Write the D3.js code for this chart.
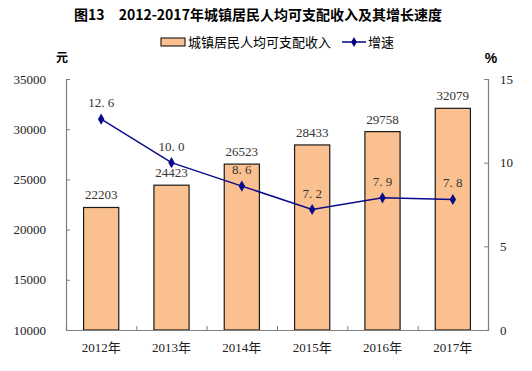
<!DOCTYPE html>
<html>
<head>
<meta charset="utf-8">
<script src="https://cdn.jsdelivr.net/npm/d3@7"></script>
<style>
  body { margin: 0; background: #fff; }
  text { font-family: "Liberation Serif", "Noto Sans CJK SC", serif; }
</style>
</head>
<body>
<script>
// Data
var years = ["2012年", "2013年", "2014年", "2015年", "2016年", "2017年"];
var income = [22203, 24423, 26523, 28433, 29758, 32079];
var growth = [12.6, 10.0, 8.6, 7.2, 7.9, 7.8];
var leftTicks = [10000, 15000, 20000, 25000, 30000, 35000];
var rightTicks = [0, 5, 10, 15];

var W = 532, H = 371;
var plotL = 66, plotR = 488, plotT = 79, plotB = 330;
var cjk = '"Noto Sans CJK SC", sans-serif';

var svg = d3.select("body").append("svg")
  .attr("width", W).attr("height", H);

var x = d3.scaleBand().domain(years).range([plotL, plotR]).paddingInner(0.5).paddingOuter(0.25);
var yL = d3.scaleLinear().domain([10000, 35000]).range([plotB, plotT]);
var yR = d3.scaleLinear().domain([0, 15]).range([plotB, plotT]);

// Title
svg.append("text")
  .attr("x", 258).attr("y", 20)
  .attr("text-anchor", "middle")
  .style("font-family", cjk)
  .style("font-weight", "bold")
  .style("font-size", "14px")
  .attr("fill", "#000")
  .text("图13　2012-2017年城镇居民人均可支配收入及其增长速度");

// Legend
var lg = svg.append("g").style("font-family", cjk).style("font-size", "13px");
lg.append("rect").attr("x", 161).attr("y", 38).attr("width", 24).attr("height", 8)
  .attr("fill", "#FAC090").attr("stroke", "#000").attr("stroke-width", 1);
lg.append("text").attr("x", 188).attr("y", 47).attr("fill", "#000").text("城镇居民人均可支配收入");
lg.append("line").attr("x1", 342).attr("x2", 366).attr("y1", 42).attr("y2", 42)
  .attr("stroke", "#00007F").attr("stroke-width", 1.5);
lg.append("path").attr("d", d3.symbol(d3.symbolDiamond, 28)())
  .attr("transform", "translate(354,42)").attr("fill", "#00007F");
lg.append("text").attr("x", 368).attr("y", 47).attr("fill", "#000").text("增速");

// Unit labels
svg.append("text").attr("x", 62).attr("y", 62).attr("text-anchor", "middle")
  .style("font-family", cjk).style("font-weight", "bold").style("font-size", "12px").text("元");
svg.append("text").attr("x", 491).attr("y", 63).attr("text-anchor", "middle")
  .style("font-family", "Liberation Sans, sans-serif").style("font-weight", "bold").style("font-size", "14px").text("%");

// Bars
svg.selectAll(".bar").data(income).enter().append("rect")
  .attr("class", "bar")
  .attr("x", function(d, i) { return x(years[i]); })
  .attr("y", function(d) { return yL(d); })
  .attr("width", x.bandwidth())
  .attr("height", function(d) { return plotB - yL(d); })
  .attr("fill", "#FAC090")
  .attr("stroke", "#1a1a1a")
  .attr("stroke-width", 1.2);

// Axes
var axL = svg.append("g").attr("transform", "translate(" + plotL + ",0)")
  .call(d3.axisLeft(yL).tickValues(leftTicks).tickSize(-4).tickPadding(20).tickFormat(d3.format("d")));
var axR = svg.append("g").attr("transform", "translate(" + plotR + ",0)")
  .call(d3.axisRight(yR).tickValues(rightTicks).tickSize(-4).tickPadding(12));
var xb = d3.scaleLinear().domain([0, 6]).range([plotL, plotR]);
var axB = svg.append("g").attr("transform", "translate(0," + plotB + ")")
  .call(d3.axisBottom(xb).tickValues([1, 2, 3, 4, 5]).tickSize(-4).tickFormat(""));
[axL, axR, axB].forEach(function(a) {
  a.select(".domain").attr("stroke", "#7f7f7f").attr("stroke-width", 1.2);
  a.selectAll(".tick line").attr("stroke", "#7f7f7f");
  a.selectAll("text").style("font-size", "13px").attr("fill", "#222")
    .style("font-family", "Liberation Serif, serif");
});

// Category labels
svg.selectAll(".xl").data(years).enter().append("text")
  .attr("x", function(d) { return x(d) + x.bandwidth() / 2; })
  .attr("y", 352)
  .attr("text-anchor", "middle")
  .style("font-size", "13px")
  .attr("fill", "#222")
  .text(function(d) { return d; });

// Bar value labels
svg.selectAll(".bl").data(income).enter().append("text")
  .attr("x", function(d, i) { return x(years[i]) + x.bandwidth() / 2; })
  .attr("y", function(d) { return yL(d) - 8; })
  .attr("text-anchor", "middle")
  .style("font-size", "13px")
  .attr("fill", "#333")
  .text(function(d) { return d; });

// Growth line
var line = d3.line()
  .x(function(d, i) { return x(years[i]) + x.bandwidth() / 2; })
  .y(function(d) { return yR(d); });
svg.append("path").datum(growth)
  .attr("d", line)
  .attr("fill", "none")
  .attr("stroke", "#0a0a8c")
  .attr("stroke-width", 1.5);
svg.selectAll(".pt").data(growth).enter().append("path")
  .attr("d", d3.symbol(d3.symbolDiamond, 36)())
  .attr("transform", function(d, i) {
    return "translate(" + (x(years[i]) + x.bandwidth() / 2) + "," + yR(d) + ")";
  })
  .attr("fill", "#0a0a8c");
svg.selectAll(".gl").data(growth).enter().append("text")
  .attr("x", function(d, i) { return x(years[i]) + x.bandwidth() / 2; })
  .attr("y", function(d) { return yR(d) - 12; })
  .attr("text-anchor", "middle")
  .style("font-size", "13px")
  .attr("fill", "#333")
  .text(function(d) { return d3.format(".1f")(d).replace(".", ". "); });
</script>
</body>
</html>
